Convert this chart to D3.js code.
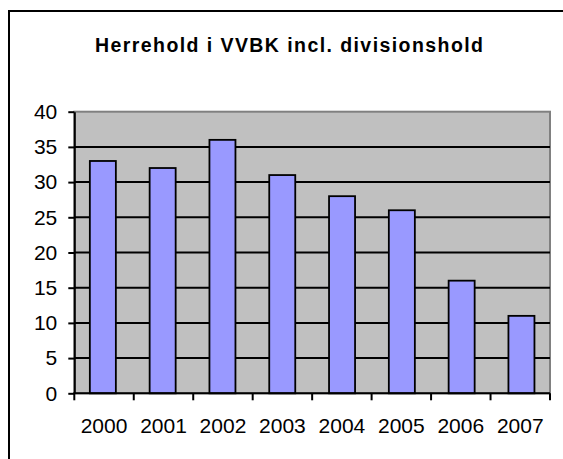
<!DOCTYPE html>
<html>
<head>
<meta charset="utf-8">
<script src="https://cdn.jsdelivr.net/npm/d3@7"></script>
<style>
  html, body { margin: 0; background: #fff; overflow: hidden; }
  svg { display: block; }
  text { font-family: "Liberation Sans", Arial, sans-serif; }
</style>
</head>
<body>
<div id="chart"></div>
<script>
// data
const years = ['2000', '2001', '2002', '2003', '2004', '2005', '2006', '2007'];
const teams = [33, 32, 36, 31, 28, 26, 16, 11];
const yTicks = [0, 5, 10, 15, 20, 25, 30, 35, 40];
const title = 'Herrehold i VVBK incl. divisionshold';

function barChart() {
  const width = 563;
  const height = 459;
  const margin = ({top: 111.7, right: 13, bottom: 65.7, left: 74.3});
  const visWidth = width - margin.left - margin.right;
  const visHeight = height - margin.top - margin.bottom;

  const svg = d3.select('#chart')
    .append('svg')
      .attr('width', width)
      .attr('height', height);

  // outer frame (runs off the right and bottom edge)
  svg.append('rect')
    .attr('x', 9)
    .attr('y', 11)
    .attr('width', 600)
    .attr('height', 500)
    .attr('fill', 'white')
    .attr('stroke', 'black')
    .attr('stroke-width', 2);

  svg.append('text')
    .attr('x', 289)
    .attr('y', 51.7)
    .attr('text-anchor', 'middle')
    .attr('font-weight', 'bold')
    .attr('font-size', 19.5)
    .attr('textLength', 388)
    .attr('lengthAdjust', 'spacing')
    .text(title);

  const g = svg.append('g')
    .attr('transform', `translate(${margin.left}, ${margin.top})`);

  const x = d3.scaleBand()
    .domain(years)
    .range([0, visWidth])
    .paddingInner(0.565)
    .paddingOuter(0.26);

  const y = d3.scaleLinear()
    .domain([0, 40])
    .range([visHeight, 0]);

  // plot background
  g.append('rect')
    .attr('width', visWidth)
    .attr('height', visHeight)
    .attr('fill', '#c0c0c0')
    .attr('stroke', '#808080')
    .attr('stroke-width', 2);

  // grid lines
  g.append('g')
    .selectAll('line')
    .data(yTicks.filter(d => d > 0 && d < 40))
    .join('line')
      .attr('x1', 0)
      .attr('x2', visWidth)
      .attr('y1', d => y(d))
      .attr('y2', d => y(d))
      .attr('stroke', 'black')
      .attr('stroke-width', 2);

  // bars
  g.append('g')
    .selectAll('rect')
    .data(teams)
    .join('rect')
      .attr('x', (d, i) => x(years[i]))
      .attr('y', d => y(d))
      .attr('width', x.bandwidth())
      .attr('height', d => y(0) - y(d))
      .attr('fill', '#9999ff')
      .attr('stroke', 'black')
      .attr('stroke-width', 1.8);

  // y axis
  const yAxis = g.append('g')
    .call(d3.axisLeft(y).tickValues(yTicks).tickSize(6).tickSizeOuter(0).tickPadding(11));
  yAxis.select('.domain').attr('stroke-width', 2);
  yAxis.selectAll('.tick line').attr('stroke-width', 2);
  yAxis.selectAll('.tick text')
    .attr('font-size', 21)
    .attr('fill', 'black');
  yAxis.attr('font-family', null);

  // x axis with ticks at category boundaries
  const edge = d3.scaleLinear().domain([0, years.length]).range([0, visWidth]);
  const xAxis = g.append('g')
    .attr('transform', `translate(0, ${visHeight})`);
  xAxis.append('line')
    .attr('x1', -1)
    .attr('x2', visWidth)
    .attr('stroke', 'black')
    .attr('stroke-width', 2);
  xAxis.selectAll('.edge')
    .data(d3.range(years.length + 1))
    .join('line')
      .attr('class', 'edge')
      .attr('x1', d => edge(d))
      .attr('x2', d => edge(d))
      .attr('y1', 0)
      .attr('y2', 7)
      .attr('stroke', 'black')
      .attr('stroke-width', 2);
  xAxis.selectAll('text')
    .data(years)
    .join('text')
      .attr('x', (d, i) => edge(i + 0.5))
      .attr('y', 40)
      .attr('text-anchor', 'middle')
      .attr('font-size', 21)
      .text(d => d);
}

window.onload = barChart;
</script>
</body>
</html>
